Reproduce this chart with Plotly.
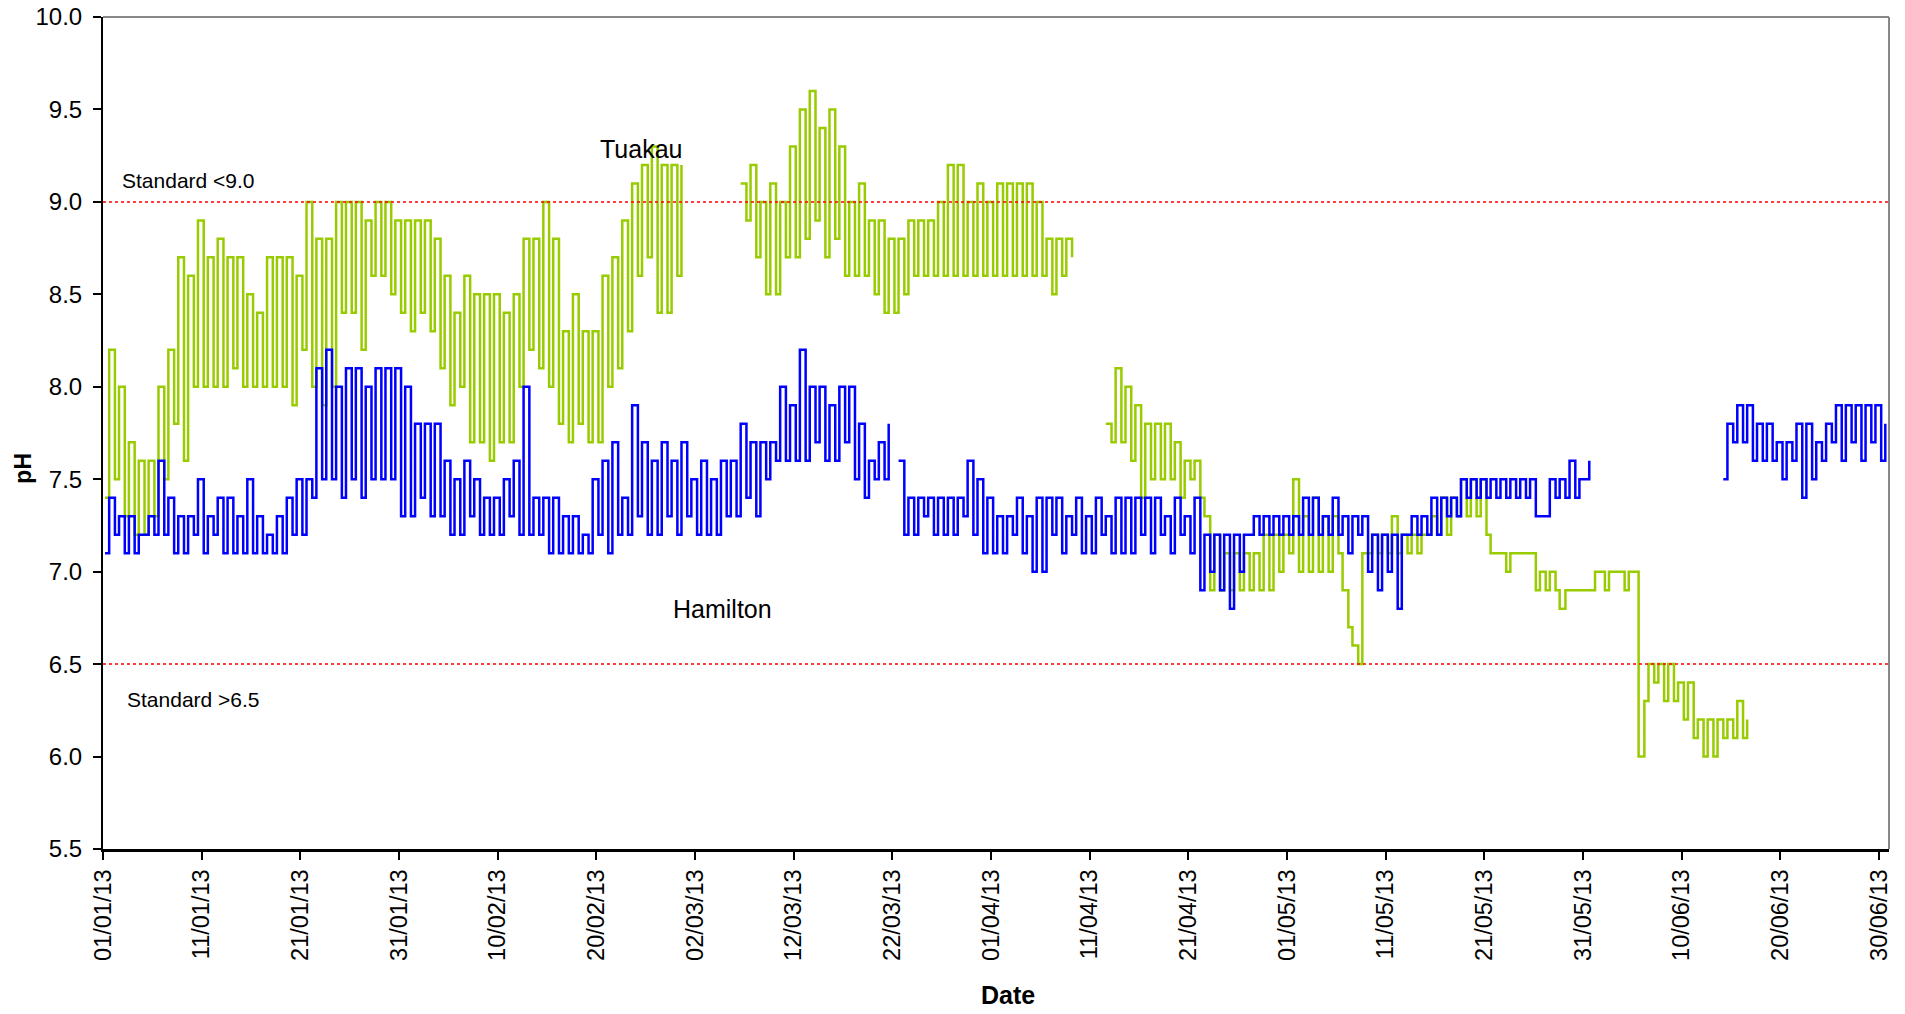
import plotly.graph_objects as go
import pandas as pd

# one reading each morning (low) and afternoon (high), 01/01/13 .. 30/06/13
days = pd.date_range("2013-01-01", "2013-06-30", freq="D")
AM_HOUR = 5
PM_HOUR = 15

hamilton_am = [
    7.1, 7.2, 7.1, 7.1, 7.2, 7.2, 7.2, 7.1, 7.1, 7.2,
    7.1, 7.2, 7.1, 7.1, 7.1, 7.1, 7.1, 7.1, 7.1, 7.2,
    7.2, 7.4, 7.5, 7.5, 7.4, 7.5, 7.4, 7.5, 7.5, 7.5,
    7.3, 7.3, 7.4, 7.3, 7.3, 7.2, 7.2, 7.3, 7.2, 7.2,
    7.2, 7.3, 7.2, 7.2, 7.2, 7.1, 7.1, 7.1, 7.1, 7.1,
    7.2, 7.1, 7.2, 7.2, 7.3, 7.2, 7.2, 7.3, 7.2, 7.3,
    7.2, 7.2, 7.2, 7.3, 7.3, 7.4, 7.3, 7.5, 7.6, 7.6,
    7.6, 7.6, 7.7, 7.6, 7.6, 7.7, 7.5, 7.4, 7.5, 7.5,
    None, 7.2, 7.2, 7.3, 7.2, 7.2, 7.2, 7.3, 7.2, 7.1,
    7.1, 7.1, 7.2, 7.1, 7.0, 7.0, 7.2, 7.1, 7.2, 7.1,
    7.1, 7.2, 7.1, 7.1, 7.1, 7.2, 7.1, 7.2, 7.1, 7.2,
    7.1, 6.9, 7.0, 6.9, 6.8, 7.0, 7.2, 7.2, 7.2, 7.2,
    7.2, 7.2, 7.2, 7.2, 7.2, 7.2, 7.1, 7.2, 7.0, 6.9,
    7.0, 6.8, 7.2, 7.2, 7.2, 7.2, 7.3, 7.3, 7.4, 7.4,
    7.4, 7.4, 7.4, 7.4, 7.4, 7.3, 7.3, 7.4, 7.4, 7.4,
    7.5, None, None, None, None, None, None, None, None, None,
    None, None, None, None, 7.5, 7.7, 7.7, 7.6, 7.6, 7.6,
    7.5, 7.6, 7.4, 7.5, 7.6, 7.7, 7.6, 7.7, 7.6, 7.7,
    7.6,
]
hamilton_pm = [
    7.4, 7.3, 7.3, 7.2, 7.3, 7.6, 7.4, 7.3, 7.3, 7.5,
    7.3, 7.4, 7.4, 7.3, 7.5, 7.3, 7.2, 7.3, 7.4, 7.5,
    7.5, 8.1, 8.2, 8.0, 8.1, 8.1, 8.0, 8.1, 8.1, 8.1,
    8.0, 7.8, 7.8, 7.8, 7.6, 7.5, 7.6, 7.5, 7.4, 7.4,
    7.5, 7.6, 8.0, 7.4, 7.4, 7.4, 7.3, 7.3, 7.2, 7.5,
    7.6, 7.7, 7.4, 7.9, 7.7, 7.6, 7.7, 7.6, 7.7, 7.5,
    7.6, 7.5, 7.6, 7.6, 7.8, 7.7, 7.7, 7.7, 8.0, 7.9,
    8.2, 8.0, 8.0, 7.9, 8.0, 8.0, 7.8, 7.6, 7.7, 7.8,
    7.6, 7.4, 7.4, 7.4, 7.4, 7.4, 7.4, 7.6, 7.5, 7.4,
    7.3, 7.3, 7.4, 7.3, 7.4, 7.4, 7.4, 7.3, 7.4, 7.3,
    7.4, 7.3, 7.4, 7.4, 7.4, 7.4, 7.4, 7.3, 7.4, 7.3,
    7.4, 7.2, 7.2, 7.2, 7.2, 7.2, 7.3, 7.3, 7.3, 7.3,
    7.3, 7.4, 7.4, 7.3, 7.4, 7.3, 7.3, 7.3, 7.2, 7.2,
    7.2, 7.2, 7.3, 7.3, 7.4, 7.4, 7.4, 7.5, 7.5, 7.5,
    7.5, 7.5, 7.5, 7.5, 7.5, 7.3, 7.5, 7.5, 7.6, 7.5,
    7.6, None, None, None, None, None, None, None, None, None,
    None, None, None, None, 7.8, 7.9, 7.9, 7.8, 7.8, 7.7,
    7.7, 7.8, 7.8, 7.7, 7.8, 7.9, 7.9, 7.9, 7.9, 7.9,
    7.8,
]
tuakau_am = [
    7.4, 7.5, 7.3, 7.2, 7.2, 7.3, 7.5, 7.8, 7.6, 8.0,
    8.0, 8.0, 8.0, 8.1, 8.0, 8.0, 8.0, 8.0, 8.0, 7.9,
    8.2, 8.0, 7.9, 8.0, 8.4, 8.4, 8.2, 8.6, 8.6, 8.5,
    8.4, 8.3, 8.4, 8.3, 8.1, 7.9, 8.0, 7.7, 7.7, 7.6,
    7.7, 7.7, 8.0, 8.2, 8.1, 8.0, 7.8, 7.7, 7.8, 7.7,
    7.7, 8.0, 8.1, 8.3, 8.6, 8.7, 8.4, 8.4, 8.6, None,
    None, None, None, None, None, 8.9, 8.7, 8.5, 8.5, 8.7,
    8.7, 8.8, 8.9, 8.7, 8.8, 8.6, 8.6, 8.6, 8.5, 8.4,
    8.4, 8.5, 8.6, 8.6, 8.6, 8.6, 8.6, 8.6, 8.6, 8.6,
    8.6, 8.6, 8.6, 8.6, 8.6, 8.6, 8.5, 8.6, 8.7, None,
    None, None, 7.7, 7.7, 7.6, 7.4, 7.5, 7.5, 7.5, 7.4,
    7.5, 7.4, 6.9, 6.9, 6.9, 6.9, 6.9, 6.9, 6.9, 7.0,
    7.1, 7.0, 7.0, 7.0, 7.0, 7.1, 6.7, 6.5, 7.1, 7.1,
    7.1, 7.1, 7.1, 7.1, 7.2, 7.2, 7.2, 7.3, 7.3, 7.3,
    7.2, 7.1, 7.0, 7.1, 7.1, 6.9, 6.9, 6.9, 6.9, 6.9,
    6.9, 7.0, 6.9, 7.0, 6.9, 7.0, 6.3, 6.4, 6.3, 6.3,
    6.2, 6.1, 6.0, 6.0, 6.1, 6.1, 6.1, None, None, None,
    None, None, None, None, None, None, None, None, None, None,
    None,
]
tuakau_pm = [
    8.2, 8.0, 7.7, 7.6, 7.6, 8.0, 8.2, 8.7, 8.6, 8.9,
    8.7, 8.8, 8.7, 8.7, 8.5, 8.4, 8.7, 8.7, 8.7, 8.6,
    9.0, 8.8, 8.8, 9.0, 9.0, 9.0, 8.9, 9.0, 9.0, 8.9,
    8.9, 8.9, 8.9, 8.8, 8.6, 8.4, 8.6, 8.5, 8.5, 8.5,
    8.4, 8.5, 8.8, 8.8, 9.0, 8.8, 8.3, 8.5, 8.3, 8.3,
    8.6, 8.7, 8.9, 9.1, 9.2, 9.3, 9.2, 9.2, 9.2, None,
    None, None, None, None, 9.1, 9.2, 9.0, 9.1, 9.0, 9.3,
    9.5, 9.6, 9.4, 9.5, 9.3, 9.0, 9.1, 8.9, 8.9, 8.8,
    8.8, 8.9, 8.9, 8.9, 9.0, 9.2, 9.2, 9.0, 9.1, 9.0,
    9.1, 9.1, 9.1, 9.1, 9.0, 8.8, 8.8, 8.8, None, None,
    None, 7.8, 8.1, 8.0, 7.9, 7.8, 7.8, 7.8, 7.7, 7.6,
    7.6, 7.3, 7.2, 7.1, 7.1, 7.1, 7.1, 7.2, 7.2, 7.2,
    7.5, 7.3, 7.4, 7.3, 7.3, 6.9, 6.6, 7.1, 7.2, 7.2,
    7.3, 7.2, 7.2, 7.2, 7.3, 7.4, 7.4, 7.5, 7.5, 7.5,
    7.1, 7.1, 7.1, 7.1, 7.1, 7.0, 7.0, 6.8, 6.9, 6.9,
    6.9, 7.0, 7.0, 7.0, 7.0, 6.0, 6.5, 6.5, 6.5, 6.4,
    6.4, 6.2, 6.2, 6.2, 6.2, 6.3, 6.2, None, None, None,
    None, None, None, None, None, None, None, None, None, None,
    None,
]

standard_max = 9.0
standard_min = 6.5

tick_dates = [
    "2013-01-01", "2013-01-11", "2013-01-21", "2013-01-31", "2013-02-10",
    "2013-02-20", "2013-03-02", "2013-03-12", "2013-03-22", "2013-04-01",
    "2013-04-11", "2013-04-21", "2013-05-01", "2013-05-11", "2013-05-21",
    "2013-05-31", "2013-06-10", "2013-06-20", "2013-06-30",
]
tick_labels = [pd.Timestamp(d).strftime("%d/%m/%y") for d in tick_dates]


def series(am, pm):
    x, y = [], []
    for day, a, p in zip(days, am, pm):
        x += [day + pd.Timedelta(hours=AM_HOUR), day + pd.Timedelta(hours=PM_HOUR)]
        y += [a, p]
    return x, y


FONT = "Liberation Sans, Arial, sans-serif"

fig = go.Figure()
tx, ty = series(tuakau_am, tuakau_pm)
hx, hy = series(hamilton_am, hamilton_pm)
fig.add_trace(go.Scatter(x=tx, y=ty, mode="lines", name="Tuakau",
                         line=dict(color="#99CC00", width=2.5, shape="hv")))
fig.add_trace(go.Scatter(x=hx, y=hy, mode="lines", name="Hamilton",
                         line=dict(color="#0000FF", width=2.5, shape="hv")))

for level in (standard_max, standard_min):
    fig.add_shape(type="line", xref="paper", yref="y", x0=0, x1=1, y0=level, y1=level,
                  line=dict(color="#FF0000", width=1.5, dash="dot"))

# grey top and right border of the plot area
fig.add_shape(type="line", xref="paper", yref="paper", x0=0, x1=1, y0=1, y1=1,
              line=dict(color="#888888", width=2))
fig.add_shape(type="line", xref="paper", yref="paper", x0=1, x1=1, y0=0, y1=1,
              line=dict(color="#888888", width=2))

fig.add_annotation(text="Standard <9.0", xref="paper", yref="y", x=0.0095, y=9.115,
                   xanchor="left", yanchor="middle", showarrow=False,
                   font=dict(family=FONT, size=21, color="black"))
fig.add_annotation(text="Standard >6.5", xref="paper", yref="y", x=0.0125, y=6.31,
                   xanchor="left", yanchor="middle", showarrow=False,
                   font=dict(family=FONT, size=21, color="black"))
fig.add_annotation(text="Tuakau", xref="paper", yref="y", x=0.3012, y=9.285,
                   xanchor="center", yanchor="middle", showarrow=False,
                   font=dict(family=FONT, size=25, color="black"))
fig.add_annotation(text="Hamilton", xref="paper", yref="y", x=0.3466, y=6.80,
                   xanchor="center", yanchor="middle", showarrow=False,
                   font=dict(family=FONT, size=25, color="black"))
fig.add_annotation(text="<b>pH</b>", xref="paper", yref="y", x=-0.0445, y=7.56,
                   textangle=-90, xanchor="center", yanchor="middle", showarrow=False,
                   font=dict(family=FONT, size=23, color="black"))
fig.add_annotation(text="<b>Date</b>", xref="paper", yref="paper", x=0.5067, y=-0.176,
                   xanchor="center", yanchor="middle", showarrow=False,
                   font=dict(family=FONT, size=25, color="black"))

fig.update_layout(
    width=1905, height=1014,
    margin=dict(l=103, r=16, t=17, b=165),
    paper_bgcolor="white", plot_bgcolor="white",
    showlegend=False,
    font=dict(family=FONT, size=22, color="black"),
)
fig.update_xaxes(
    type="date", range=["2013-01-01", "2013-07-01"],
    tickmode="array", tickvals=tick_dates, ticktext=tick_labels, tickangle=-90,
    ticks="outside", ticklen=8, tickwidth=2, tickcolor="black",
    showline=True, linecolor="black", linewidth=3,
    showgrid=False, zeroline=False, automargin=False,
    tickfont=dict(family=FONT, size=23.5, color="black"),
)
fig.update_yaxes(
    range=[5.5, 10.0], tick0=5.5, dtick=0.5, tickformat=".1f",
    ticks="outside", ticklen=8, tickwidth=2, tickcolor="black",
    showline=True, linecolor="black", linewidth=2,
    showgrid=False, zeroline=False, ticklabelstandoff=6,
    automargin=False, ticklabeloverflow="allow",
    tickfont=dict(family=FONT, size=24, color="black"),
)

fig.write_html("out.html", config={"displayModeBar": False},
               post_script="document.body.style.margin='0';")
